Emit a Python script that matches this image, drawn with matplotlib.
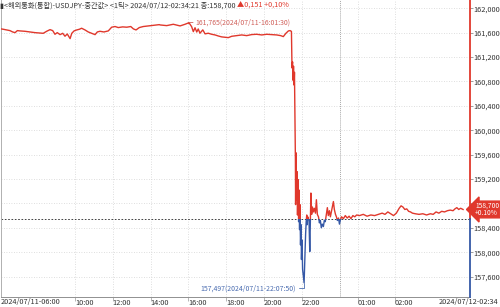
import numpy as np
import matplotlib
matplotlib.use("Agg")
import matplotlib.pyplot as plt
from matplotlib.patches import Rectangle

# fonts: Noto CJK for Hangul and its narrow latin digits, DejaVu for missing signs
FONTS = ["Noto Sans CJK KR", "DejaVu Sans"]
plt.rcParams["font.family"] = FONTS

# --- data (1-tick chart, x = position in hours from 07/11 06:00 on the tick axis) ---
base_price = 158.549          # previous close -> dashed line
last_price = 158.700
peak_pos, peak_price = 10.025, 161.765
low_pos, low_price = 16.12, 157.497

pos = [
    0.09, 0.21, 0.39, 0.56, 0.70, 0.83, 0.95, 1.09, 1.35, 1.62, 1.88, 2.15, 2.32, 2.50,
    2.68, 2.82, 2.94, 3.06, 3.21, 3.35, 3.47, 3.59, 3.74, 3.83, 3.95, 4.09, 4.23, 4.35,
    4.53, 4.70, 4.88, 5.06, 5.18, 5.32, 5.53, 5.76, 5.94, 6.12, 6.29, 6.52, 6.74, 6.95,
    7.09, 7.23, 7.40, 7.61, 7.88, 8.14, 8.46, 8.50, 8.85, 9.20, 9.56, 9.82, 10.0, 10.025,
    10.17, 10.26, 10.35, 10.44, 10.52, 10.61, 10.76, 10.88, 11.05, 11.23, 11.41, 11.58,
    11.76, 11.94, 12.11, 12.29, 12.56, 12.82, 13.08, 13.35, 13.61, 13.88, 14.14, 14.41,
    14.67, 14.88, 15.02, 15.16, 15.29, 15.38, 15.45,
    15.48, 15.51, 15.53, 15.56, 15.59, 15.61, 15.64, 15.66, 15.67, 15.69, 15.72, 15.75,
    15.77, 15.80, 15.83, 15.85, 15.88, 15.90, 15.93, 15.96, 15.98, 16.01, 16.04, 16.12,
    16.15, 16.18, 16.20, 16.23, 16.26, 16.28, 16.31, 16.34, 16.38, 16.42, 16.45, 16.48,
    16.52, 16.56, 16.61, 16.66, 16.72, 16.77, 16.82, 16.88, 16.93, 16.98, 17.03, 17.08,
    17.14, 17.19, 17.24, 17.30, 17.35, 17.40, 17.46, 17.51, 17.56, 17.62, 17.67, 17.72,
    17.78, 17.83, 17.88, 17.94, 17.99, 18.04, 18.10, 18.20, 18.30, 18.40, 18.50, 18.60,
    18.70, 18.80, 18.90, 19.05, 19.25, 19.45, 19.65, 19.85, 20.05, 20.25, 20.40, 20.55,
    20.70, 20.85, 21.00, 21.15, 21.25, 21.35, 21.45, 21.55, 21.65, 21.75, 21.85, 22.00,
    22.20, 22.40, 22.60, 22.80, 22.95, 23.10, 23.25, 23.40, 23.55, 23.70, 23.85, 24.00,
    24.10, 24.20, 24.30, 24.40, 24.53,
]
price = [
    161.661, 161.655, 161.644, 161.633, 161.611, 161.600, 161.633, 161.628, 161.622, 161.611,
    161.600, 161.594, 161.589, 161.622, 161.649, 161.633, 161.573, 161.600, 161.567, 161.589,
    161.541, 161.578, 161.502, 161.589, 161.628, 161.644, 161.655, 161.672, 161.644, 161.611,
    161.589, 161.567, 161.611, 161.622, 161.611, 161.628, 161.689, 161.700, 161.683, 161.694,
    161.689, 161.700, 161.661, 161.644, 161.683, 161.700, 161.710, 161.720, 161.731, 161.726,
    161.715, 161.737, 161.710, 161.737, 161.759, 161.765,
    161.698, 161.616, 161.680, 161.610, 161.660, 161.590, 161.645, 161.580, 161.590, 161.573,
    161.562, 161.545, 161.530, 161.524, 161.518, 161.540, 161.551, 161.562, 161.551, 161.568,
    161.573, 161.562, 161.573, 161.568, 161.562, 161.551, 161.535, 161.590, 161.628, 161.633,
    161.620,
    161.020, 161.120, 160.820, 161.050, 160.740, 160.950, 160.170, 159.510, 158.780, 159.630,
    158.860, 159.320, 158.610, 159.190, 158.500, 159.020, 158.370, 158.780, 158.120, 158.450,
    157.880, 158.200, 157.720, 157.497,
    157.790, 158.040, 158.300, 158.500, 158.610, 158.450, 158.580, 158.550, 158.520, 158.010,
    158.500, 158.970, 158.620, 158.740, 158.660, 158.720, 158.640, 158.860, 158.620, 158.580,
    158.480, 158.520, 158.400, 158.460, 158.420, 158.520, 158.500, 158.620, 158.730, 158.600,
    158.680, 158.580, 158.660, 158.760, 158.830, 158.700, 158.620, 158.580, 158.520, 158.560,
    158.460, 158.530, 158.580, 158.550, 158.600, 158.560, 158.590, 158.550, 158.600, 158.580,
    158.610, 158.600, 158.620, 158.590, 158.610, 158.600, 158.620, 158.640, 158.620, 158.660,
    158.630, 158.600, 158.640, 158.720, 158.760, 158.740, 158.700, 158.710, 158.670, 158.660,
    158.640, 158.630, 158.620, 158.630, 158.610, 158.630, 158.620, 158.660, 158.640, 158.670,
    158.660, 158.680, 158.690, 158.680, 158.710, 158.730, 158.700, 158.720, 158.700,
]

tick_pos = [4, 6, 8, 10, 12, 14, 16, 18.96, 20.93]
tick_labels = ["10:00", "12:00", "14:00", "16:00", "18:00", "20:00", "22:00", "01:00", "02:00"]
midnight_pos = 18.0
y_ticks = [157.6, 158.0, 158.4, 158.8, 159.2, 159.6, 160.0, 160.4, 160.8, 161.2, 161.6, 162.0]
hidden_tick = 158.8   # covered by the last-price tag in the original

title_main = "▮<해외통화(통합)-USDJPY-중간값> <1틱> 2024/07/12-02:34:21 종:158,700 "
title_change = "▲0,151 +0,10%"
start_label = "2024/07/11-06:00"
end_label = "2024/07/12-02:34"

RED = "#e0382c"
BLUE = "#3558a6"
GRID = "#d4d4d4"
TXT = "#333333"


def fmt(v):
    return f"{v:,.3f}".replace(".", ",")


# --- figure ------------------------------------------------------------------
fig = plt.figure(figsize=(5.0, 3.07), dpi=100)
ax = fig.add_axes([1 / 500, 10 / 307, 468.5 / 500, 297 / 307])
x0, x1 = 0.085, 24.87
y0, y1 = 157.265, 162.135
ax.set_xlim(x0, x1)
ax.set_ylim(y0, y1)

# grid
for yt in y_ticks:
    ax.axhline(yt, color=GRID, lw=0.6, ls=(0, (1, 2)), zorder=0)
for xt in tick_pos:
    ax.axvline(xt, color=GRID, lw=0.6, ls=(0, (1, 2)), zorder=0)
ax.axvline(midnight_pos, color="#a8a8a8", lw=0.7, ls=(0, (1, 1)), zorder=0)
ax.axhline(base_price, color="#222222", lw=0.6, ls=(0, (2, 2)), zorder=1)

# price line: red above previous close, blue below
up = ax.plot(pos, price, color=RED, lw=1.0, zorder=3)[0]
dn = ax.plot(pos, price, color=BLUE, lw=1.0, zorder=3)[0]
up.set_clip_path(Rectangle((x0, base_price), x1 - x0, y1 - base_price, transform=ax.transData))
dn.set_clip_path(Rectangle((x0, y0), x1 - x0, base_price - y0, transform=ax.transData))

# right axis line in two colours
ax.plot([1, 1], [base_price, y1], color=RED, lw=1.3, transform=ax.get_yaxis_transform(),
        clip_on=False, zorder=4)
ax.plot([1, 1], [y0, base_price], color=BLUE, lw=1.3, transform=ax.get_yaxis_transform(),
        clip_on=False, zorder=4)

# axes styling
for s in ["top", "right"]:
    ax.spines[s].set_visible(False)
ax.spines["left"].set_color("#b0b0b0")
ax.spines["bottom"].set_color("#909090")
ax.spines["left"].set_linewidth(0.7)
ax.spines["bottom"].set_linewidth(0.7)

ax.yaxis.tick_right()
ax.set_yticks(y_ticks)
ax.set_yticklabels(["" if v == hidden_tick else fmt(v) for v in y_ticks])
ax.tick_params(axis="y", direction="out", length=2, width=0.5, color="#777777",
               pad=1, labelsize=5.3, labelcolor=TXT)
ax.set_xticks(tick_pos)
ax.set_xticklabels(tick_labels, ha="left")
ax.tick_params(axis="x", direction="out", length=3, width=0.5, color="#999999",
               pad=-1.8, labelsize=5.3, labelcolor=TXT)

# extreme annotations
ax.annotate(f"{fmt(peak_price)}(2024/07/11-16:01:30)", xy=(peak_pos, peak_price),
            xytext=(5, 0), textcoords="offset points", ha="left", va="center",
            fontsize=5.0, color="#d0605a",
            arrowprops=dict(arrowstyle="-", color="#d0605a", lw=0.6, shrinkA=0, shrinkB=0))
ax.annotate(f"{fmt(low_price)}(2024/07/11-22:07:50)", xy=(low_pos, low_price),
            xytext=(-6, -4), textcoords="offset points", ha="right", va="center",
            fontsize=5.0, color="#4a6cb0",
            arrowprops=dict(arrowstyle="-", color="#4a6cb0", lw=0.6, shrinkA=0, shrinkB=0,
                            connectionstyle="angle,angleA=0,angleB=90,rad=0"))

# last price tag
ax.annotate(f"{fmt(last_price)}\n+0.10%", xy=(1, last_price),
            xycoords=ax.get_yaxis_transform(), xytext=(4, 0), textcoords="offset points",
            ha="left", va="center", fontsize=4.8, color="white", linespacing=0.9,
            bbox=dict(boxstyle="larrow,pad=0.1", fc=RED, ec=RED), zorder=6,
            annotation_clip=False)

# header and date labels
t1 = fig.text(0.0, 1 - 5.5 / 307, title_main, fontsize=5.2, color=TXT, va="center", ha="left")
ax.annotate(title_change, xy=(1, 0.5), xycoords=t1, ha="left", va="center",
            fontsize=5.2, color=RED, annotation_clip=False)
fig.text(1 / 500, 5 / 307, start_label, fontsize=5.3, color=TXT, ha="left", va="center")
fig.text(498 / 500, 5 / 307, end_label, fontsize=5.3, color=TXT, ha="right", va="center")

fig.savefig("out.png", dpi=100)
